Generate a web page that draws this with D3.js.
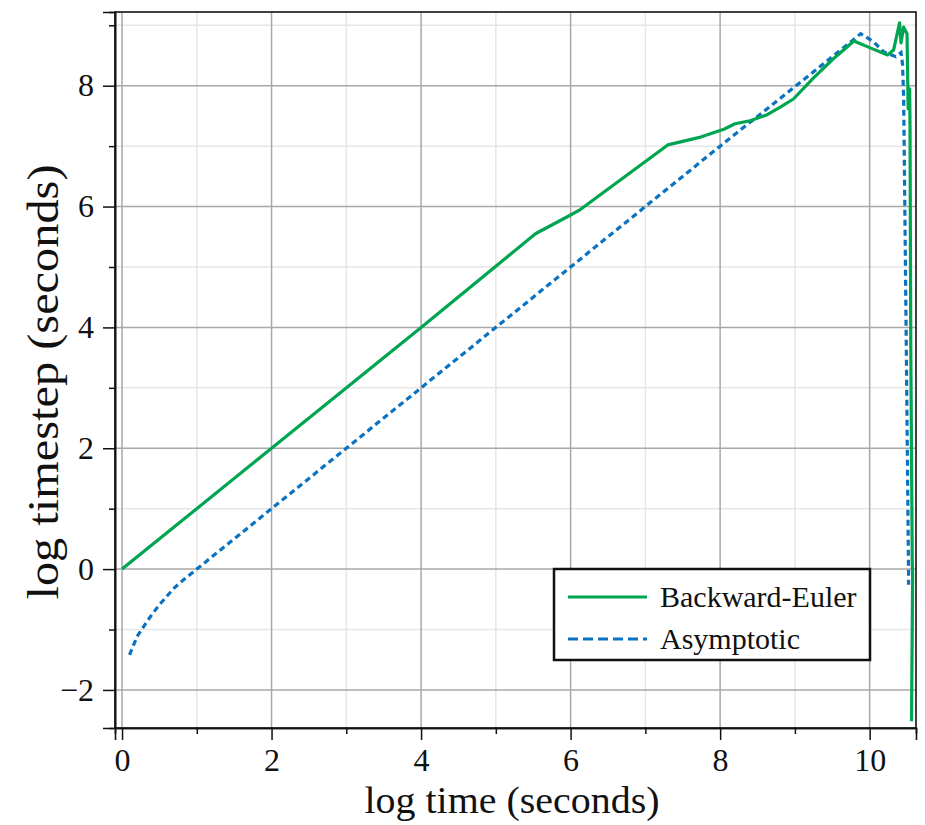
<!DOCTYPE html>
<html><head><meta charset="utf-8">
<script src="https://cdn.jsdelivr.net/npm/d3@7"></script>
<style>body{margin:0;background:#fff}svg{display:block}text{font-family:"Liberation Serif","DejaVu Serif",serif;fill:#111}</style>
</head><body>
<svg id="c" width="925" height="825"></svg>
<script>
const xMajorTicks = [0, 2, 4, 6, 8, 10];
const xMinorTicks = [1, 3, 5, 7, 9];
const yMajorTicks = [-2, 0, 2, 4, 6, 8];
const yMinorTicks = [-1, 1, 3, 5, 7, 9];
const xLabel = "log time (seconds)";
const yLabel = "log timestep (seconds)";
const seriesNames = ["Backward-Euler", "Asymptotic"];

// Backward-Euler: [log time, log timestep]
const backwardEuler = [
 [0,0],[2,2],[4,4],[5.53,5.55],[6.0,5.86],[6.13,5.95],[7.30,7.02],[7.74,7.15],[8.05,7.28],[8.2,7.37],
 [8.4,7.42],[8.63,7.52],[8.81,7.65],[8.98,7.78],[9.25,8.13],[9.5,8.43],[9.79,8.74],[10.0,8.63],
 [10.24,8.51],[10.32,8.59],[10.40,9.04],[10.42,8.71],[10.455,8.97],[10.50,8.86],[10.515,7.62],
 [10.535,7.95],[10.54,7.3],[10.55,3.7],[10.57,0.1],[10.575,-0.1],[10.56,-2.52]
];
// Asymptotic
const asymptotic = [
 [0.1,-1.42],[0.2,-1.12],[0.3,-0.93],[0.4,-0.75],[0.5,-0.59],[0.6,-0.45],[0.7,-0.31],[0.8,-0.2],
 [1.0,0.0],[1.3,0.3],[2,1.0],[4,3.0],[6,5.0],[8,7.0],[9.25,8.23],[9.88,8.86],[10.05,8.73],
 [10.19,8.56],[10.35,8.48],[10.42,8.55],[10.44,8.35],[10.455,7.8],[10.49,3.7],[10.52,-0.05],[10.52,-0.26]
];

const svg = d3.select("#c");
const L = 115, R = 916, T = 12, B = 728;
const x = d3.scaleLinear().domain([-0.094, 10.62]).range([L, R]);
const y = d3.scaleLinear().domain([-2.63, 9.22]).range([B, T]);

const g = svg.append("g");
g.selectAll(".gxm").data(xMinorTicks).join("line")
  .attr("x1", d => x(d)).attr("x2", d => x(d)).attr("y1", T).attr("y2", B)
  .attr("stroke", "#e6e6e6").attr("stroke-width", 1.5);
g.selectAll(".gym").data(yMinorTicks).join("line")
  .attr("y1", d => y(d)).attr("y2", d => y(d)).attr("x1", L).attr("x2", R)
  .attr("stroke", "#e6e6e6").attr("stroke-width", 1.5);
g.selectAll(".gxM").data(xMajorTicks).join("line")
  .attr("x1", d => x(d)).attr("x2", d => x(d)).attr("y1", T).attr("y2", B)
  .attr("stroke", "#a8a8a8").attr("stroke-width", 1.5);
g.selectAll(".gyM").data(yMajorTicks).join("line")
  .attr("y1", d => y(d)).attr("y2", d => y(d)).attr("x1", L).attr("x2", R)
  .attr("stroke", "#a8a8a8").attr("stroke-width", 1.5);

svg.append("rect").attr("x", L).attr("y", T).attr("width", R - L).attr("height", B - T)
  .attr("fill", "none").attr("stroke", "#111").attr("stroke-width", 1.6);

const fmt = d => d < 0 ? "\u2212" + Math.abs(d) : String(d);
const xAxis = svg.append("g").attr("transform", `translate(0,${B})`)
  .call(d3.axisBottom(x).tickValues(xMajorTicks).tickSize(12).tickPadding(8).tickFormat(fmt));
const xAxisMinor = svg.append("g").attr("transform", `translate(0,${B})`)
  .call(d3.axisBottom(x).tickValues(xMinorTicks).tickSize(6).tickFormat(""));
const yAxis = svg.append("g").attr("transform", `translate(${L},0)`)
  .call(d3.axisLeft(y).tickValues(yMajorTicks).tickSize(12).tickPadding(9).tickFormat(fmt));
const yAxisMinor = svg.append("g").attr("transform", `translate(${L},0)`)
  .call(d3.axisLeft(y).tickValues(yMinorTicks).tickSize(6).tickFormat(""));
[xAxis, xAxisMinor, yAxis, yAxisMinor].forEach(a => {
  a.select(".domain").attr("stroke", "#111").attr("stroke-width", 1.6);
  a.selectAll(".tick line").attr("stroke", "#111").attr("stroke-width", 1.5);
  a.selectAll(".tick text").attr("font-size", 32).attr("font-family", "Liberation Serif").attr("fill", "#111");
});

const line = d3.line().x(d => x(d[0])).y(d => y(d[1]));
svg.append("path").datum(asymptotic).attr("d", line).attr("fill", "none")
  .attr("stroke", "#0a72c0").attr("stroke-width", 3.2).attr("stroke-dasharray", "6,4");
svg.append("path").datum(backwardEuler).attr("d", line).attr("fill", "none")
  .attr("stroke", "#00a550").attr("stroke-width", 3.2).attr("stroke-linejoin", "round");

svg.append("text").attr("x", 512).attr("y", 813).attr("text-anchor", "middle")
  .attr("font-size", 38).attr("textLength", 295).attr("lengthAdjust", "spacingAndGlyphs").text(xLabel);
svg.append("text").attr("transform", "translate(58,382) rotate(-90)").attr("text-anchor", "middle")
  .attr("font-size", 44).attr("textLength", 435).attr("lengthAdjust", "spacingAndGlyphs").text(yLabel);

const lg = svg.append("g");
lg.append("rect").attr("x", 554).attr("y", 569).attr("width", 316).attr("height", 91)
  .attr("fill", "#fff").attr("stroke", "#111").attr("stroke-width", 2.5);
const styles = [{c: "#00a550", dash: null}, {c: "#0a72c0", dash: "10,5"}];
seriesNames.forEach((n, i) => {
  const yy = 597 + i * 42;
  lg.append("line").attr("x1", 568).attr("x2", 647).attr("y1", yy).attr("y2", yy)
    .attr("stroke", styles[i].c).attr("stroke-width", 3).attr("stroke-dasharray", styles[i].dash);
  lg.append("text").attr("x", 660).attr("y", yy + 10).attr("font-size", 30).text(n);
});
</script>
</body></html>
